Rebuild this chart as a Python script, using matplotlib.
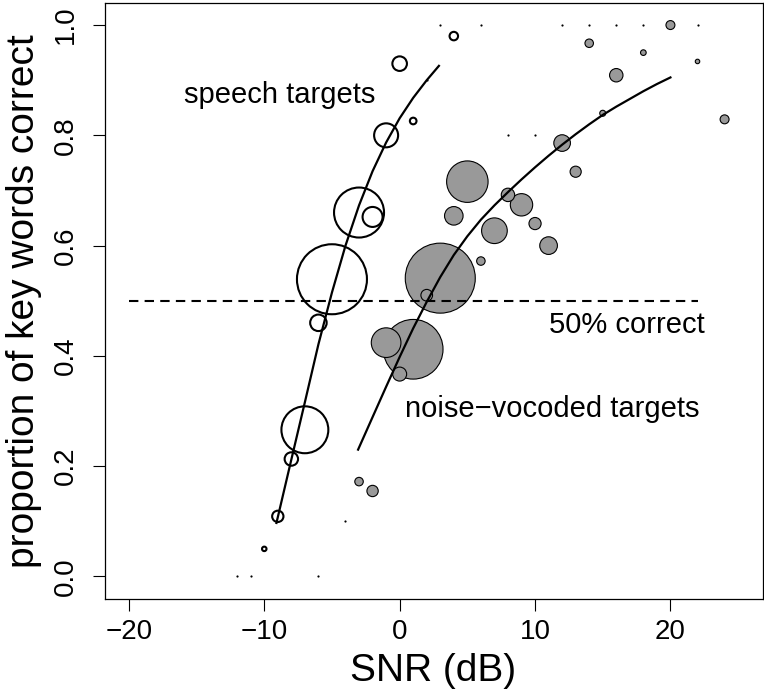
import numpy as np
import matplotlib
matplotlib.use("Agg")
import matplotlib.pyplot as plt

plt.rcParams['font.family'] = ['Liberation Sans', 'DejaVu Sans']

# speech targets: SNR, proportion correct, weight (circle area ~ n)
speech_snr = [-12, -11, -10, -9, -8, -7, -6, -6, -5, -4, -3, -2, -1, 0, 1, 2, 3, 4]
speech_p = [0.0, 0.0, 0.05, 0.109, 0.213, 0.266, 0.46, 0.0, 0.539, 0.10,
            0.66, 0.652, 0.80, 0.93, 0.826, 0.90, 1.0, 0.98]
speech_n = [0, 0, 5, 32, 45, 550, 68, 0, 1225, 0, 625, 100, 144, 53, 11, 0, 0, 18]

# noise-vocoded targets
noise_snr = [-3, -2, -1, 0, 1, 2, 3, 4, 5, 6, 6, 7, 8, 8, 9, 10, 10, 11, 12, 12,
             13, 14, 14, 15, 16, 16, 18, 18, 20, 22, 22, 24]
noise_p = [0.172, 0.155, 0.424, 0.367, 0.412, 0.51, 0.541, 0.654, 0.716, 0.572, 1.0,
           0.627, 0.692, 0.80, 0.674, 0.64, 0.80, 0.60, 0.786, 1.0,
           0.734, 0.967, 1.0, 0.84, 0.909, 1.0, 0.95, 1.0, 1.0, 0.934, 1.0, 0.829]
noise_n = [18, 32, 220, 49, 890, 34, 1225, 86, 430, 18, 0,
           165, 45, 0, 125, 37, 0, 78, 69, 0,
           31, 18, 0, 9, 45, 0, 8, 0, 20, 5, 0, 20]

# fitted psychometric curves
speech_fit_x = [-9.1, -8, -7, -6, -5, -4, -3, -2, -1, 0, 1, 2, 2.9]
speech_fit_y = [0.097, 0.212, 0.316, 0.421, 0.515, 0.600, 0.673, 0.735, 0.787,
                0.831, 0.868, 0.900, 0.926]
noise_fit_x = [-3.07, -2, -1, 0, 1, 2, 3, 4, 5, 6, 7, 8, 9, 10, 11, 12, 13, 14,
               15, 16, 17, 18, 19, 20]
noise_fit_y = [0.23, 0.289, 0.344, 0.398, 0.450, 0.498, 0.543, 0.583, 0.617, 0.647,
               0.673, 0.697, 0.720, 0.742, 0.763, 0.783, 0.802, 0.820, 0.837,
               0.852, 0.866, 0.880, 0.893, 0.905]

fig = plt.figure(figsize=(7.64, 6.97), dpi=100)
ax = fig.add_axes([104.5 / 764, 98.5 / 697, 658 / 764, 595.5 / 697])

PX = 0.72  # points per pixel
k = (2 * PX) ** 2


def bubbles(x, y, n, face, lw):
    x, y, n = np.asarray(x), np.asarray(y), np.asarray(n, dtype=float)
    order = np.argsort(-n, kind='stable')  # big circles first, small on top
    x, y, n = x[order], y[order], n[order]
    big = n > 0
    ax.scatter(x[big], y[big], s=k * n[big], facecolors=face,
               edgecolors='black', linewidths=lw, zorder=2)
    ax.scatter(x[~big], y[~big], s=(2.2 * PX) ** 2, c='black',
               linewidths=0, zorder=2)


bubbles(speech_snr, speech_p, speech_n, 'none', 1.5)
bubbles(noise_snr, noise_p, noise_n, '#999999', 0.8)

ax.plot(speech_fit_x, speech_fit_y, color='black', lw=1.6, zorder=3)
ax.plot(noise_fit_x, noise_fit_y, color='black', lw=1.6, zorder=3)
ax.plot([-20, 22], [0.5, 0.5], color='black', lw=1.5, dashes=(4.5, 3), zorder=3)

ax.text(-8.86, 0.858, 'speech targets', fontsize=21, ha='center', va='baseline')
ax.text(11.25, 0.289, 'noise\u2212vocoded targets', fontsize=21, ha='center',
        va='baseline')
ax.text(16.8, 0.442, '50% correct', fontsize=21, ha='center', va='baseline')

ax.set_xlim(-21.8, 26.8)
ax.set_ylim(-0.04, 1.04)
ax.set_xticks([-20, -10, 0, 10, 20])
ax.set_yticks([0, 0.2, 0.4, 0.6, 0.8, 1.0])
ax.set_yticklabels(['0.0', '0.2', '0.4', '0.6', '0.8', '1.0'], rotation=90,
                   va='center')
ax.tick_params(length=8.5, width=0.8, labelsize=20, pad=6)
ax.tick_params(axis='y', pad=10)
for s in ax.spines.values():
    s.set_linewidth(0.9)

ax.set_xlabel('SNR (dB)', fontsize=28, labelpad=6)
ax.set_ylabel('proportion of key words correct', fontsize=28, labelpad=8)

fig.savefig('out.png', dpi=100)
